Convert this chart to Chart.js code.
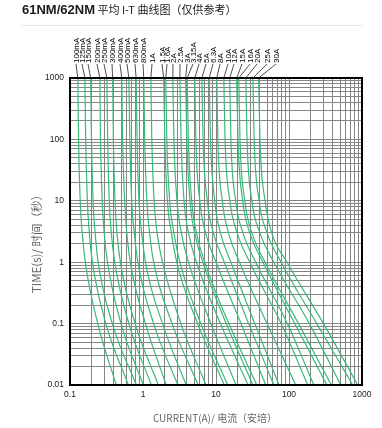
<!DOCTYPE html>
<html>
<head>
<meta charset="utf-8">
<script src="https://cdn.jsdelivr.net/npm/chart.js@4.4.0/dist/chart.umd.min.js"></script>
<style>
  html, body { margin: 0; padding: 0; background: #fff; }
  canvas { display: block; }
</style>
</head>
<body>
<canvas id="itChart" width="382" height="428"></canvas>
<script>
// fuse ratings, one curve each
const ratings = ["100mA","125mA","150mA","200mA","250mA","300mA","400mA","500mA","630mA","800mA",
  "1A","1.5A","1.6A","2A","2.5A","3A","3.15A","4A","5A","6.3A","8A","10A","12A","15A","16A","20A","25A","30A"];

// time points (s) at which each curve was read
const times = [1000, 100, 10, 3, 1, 0.1, 0.01];

// current (A) of each curve at those times
const currents = [
  [0.128, 0.131, 0.138, 0.147, 0.162, 0.24, 0.43],   // 100mA
  [0.16, 0.164, 0.173, 0.184, 0.203, 0.31, 0.63],    // 125mA
  [0.192, 0.197, 0.207, 0.221, 0.243, 0.38, 0.81],   // 150mA
  [0.256, 0.262, 0.276, 0.294, 0.326, 0.5, 1.01],    // 200mA
  [0.32, 0.328, 0.345, 0.368, 0.41, 0.64, 1.3],      // 250mA
  [0.384, 0.393, 0.414, 0.44, 0.49, 0.78, 1.62],     // 300mA
  [0.512, 0.526, 0.56, 0.6, 0.67, 1.08, 2.08],       // 400mA
  [0.64, 0.66, 0.7, 0.76, 0.85, 1.4, 3.0],           // 500mA
  [0.806, 0.83, 0.88, 0.96, 1.08, 1.85, 3.9],        // 630mA
  [1.024, 1.055, 1.13, 1.23, 1.4, 2.5, 5.7],         // 800mA
  [1.28, 1.32, 1.42, 1.56, 1.85, 3.3, 7.3],          // 1A
  [1.92, 1.99, 2.16, 2.45, 2.9, 5.6, 13],            // 1.5A
  [2.05, 2.12, 2.32, 2.65, 3.2, 6.2, 14.5],          // 1.6A
  [2.56, 2.65, 2.92, 3.35, 4.2, 8.5, 18.8],          // 2A
  [3.2, 3.32, 3.65, 4.2, 5.4, 11.5, 27.5],           // 2.5A
  [3.84, 3.98, 4.4, 5.1, 6.6, 13.8, 32],             // 3A
  [4.03, 4.18, 4.65, 5.4, 7.0, 15, 36],              // 3.15A
  [5.12, 5.3, 6.0, 7.2, 10, 22, 48],                 // 4A
  [6.4, 6.65, 7.6, 9.2, 13, 28, 62],                 // 5A
  [8.06, 8.4, 9.6, 11.5, 16, 34, 73],                // 6.3A
  [10.24, 10.6, 12.2, 14.8, 21, 50, 124],            // 8A
  [12.8, 13.3, 15.5, 19.5, 29, 78, 181],             // 10A
  [15.4, 16, 18.6, 23.4, 35, 95, 219],               // 12A
  [19.2, 20, 23.2, 29, 44, 120, 330],                // 15A
  [20.5, 21.3, 24.8, 31, 47, 135, 380],              // 16A
  [25.6, 26.6, 31, 40, 62, 190, 512],                // 20A
  [32, 33.3, 39, 50, 78, 240, 746],                  // 25A
  [38.4, 40, 47, 58, 94, 297, 873]                   // 30A
];

const xTicks = [0.1, 1, 10, 100, 1000];
const xTickLabels = ["0.1", "1", "10", "100", "1000"];
const yTicks = [0.01, 0.1, 1, 10, 100, 1000];
const yTickLabels = ["0.01", "0.1", "1", "10", "100", "1000"];

// where the rotated rating labels sit above the plot (px)
const labelPos = [76, 82, 88, 97, 104, 112, 120, 127, 135, 143, 152, 162, 167, 173, 180, 187,
  193, 199, 206, 213, 220, 228, 234, 242, 250, 257, 267, 276];

const GREEN = "#3cb878";
const FONT = "'Liberation Sans', Arial, 'Noto Sans CJK SC', sans-serif";

// 1..9 per decade for the log grid
function gridValues(decades) {
  const out = [];
  decades.forEach((d, i) => {
    if (i === decades.length - 1) { out.push(d); return; }
    for (let k = 1; k < 10; k++) out.push(+(d * k).toPrecision(4));
  });
  return out;
}

const datasets = currents.map((row, i) => ({
  label: ratings[i],
  data: row.map((c, j) => ({ x: c, y: times[j] })),
  borderColor: GREEN,
  borderWidth: 1.2,
  pointRadius: 0,
  showLine: true,
  cubicInterpolationMode: "monotone",
  fill: false
}));

const decorPlugin = {
  id: "decor",
  afterDatasetsDraw(chart) {
    const { ctx, chartArea: a, scales } = chart;
    ctx.save();
    // frame
    ctx.strokeStyle = "#000";
    ctx.lineWidth = 2;
    ctx.strokeRect(a.left, a.top, a.right - a.left, a.bottom - a.top);

    // rating labels with leader lines
    ctx.lineWidth = 0.8;
    ctx.strokeStyle = "#222";
    ctx.fillStyle = "#000";
    ctx.font = "8px " + FONT;
    currents.forEach((row, i) => {
      const topX = scales.x.getPixelForValue(row[0]);
      const lx = labelPos[i];
      ctx.beginPath();
      ctx.moveTo(lx, 64);
      ctx.lineTo(topX, a.top);
      ctx.stroke();
      ctx.save();
      ctx.translate(lx + 0.5, 63);
      ctx.rotate(-Math.PI / 2);
      ctx.textAlign = "left";
      ctx.textBaseline = "middle";
      ctx.fillText(ratings[i], 0, 0);
      ctx.restore();
    });

    // page title
    ctx.textBaseline = "alphabetic";
    ctx.textAlign = "left";
    ctx.fillStyle = "#1a1a1a";
    ctx.font = "bold 13px " + FONT;
    ctx.fillText("61NM/62NM", 22, 14);
    const w = ctx.measureText("61NM/62NM").width;
    ctx.font = "11px 'Noto Sans CJK SC', sans-serif";
    ctx.fillText(" 平均 I-T 曲线图（仅供参考）", 22 + w, 14);

    // separator
    ctx.strokeStyle = "#e6e6e6";
    ctx.lineWidth = 1;
    ctx.beginPath();
    ctx.moveTo(22, 25.5);
    ctx.lineTo(362, 25.5);
    ctx.stroke();

    // axis titles
    ctx.fillStyle = "#666";
    ctx.font = "10px 'Noto Sans CJK SC', sans-serif";
    ctx.textAlign = "center";
    ctx.textBaseline = "middle";
    ctx.fillText("CURRENT(A)/ 电流（安培）", 215, 418);
    ctx.font = "11.5px 'Noto Sans CJK SC', sans-serif";
    ctx.save();
    ctx.translate(37, 241);
    ctx.rotate(-Math.PI / 2);
    ctx.fillText("TIME(s)/ 时间（秒）", 0, 0);
    ctx.restore();
    ctx.restore();
  }
};

new Chart(document.getElementById("itChart"), {
  type: "scatter",
  data: { datasets },
  options: {
    responsive: false,
    animation: false,
    devicePixelRatio: 1,
    layout: { padding: { top: 78, right: 20, left: 0, bottom: 0 } },
    plugins: { legend: { display: false }, tooltip: { enabled: false } },
    scales: {
      x: {
        type: "logarithmic",
        min: 0.1,
        max: 1000,
        afterBuildTicks: s => { s.ticks = gridValues(xTicks).map(v => ({ value: v })); },
        afterFit: s => { s.height = 43; },
        border: { display: false },
        grid: { color: "#858585", lineWidth: 1, drawTicks: false },
        ticks: {
          autoSkip: false, maxRotation: 0, padding: 5,
          color: "#222", font: { size: 8.5, family: FONT },
          callback: v => { const i = xTicks.indexOf(v); return i >= 0 ? xTickLabels[i] : ""; }
        }
      },
      y: {
        type: "logarithmic",
        min: 0.01,
        max: 1000,
        afterBuildTicks: s => { s.ticks = gridValues(yTicks).map(v => ({ value: v })); },
        afterFit: s => { s.width = 70; },
        border: { display: false },
        grid: { color: "#858585", lineWidth: 1, drawTicks: false },
        ticks: {
          autoSkip: false, padding: 6,
          color: "#222", font: { size: 8.5, family: FONT },
          callback: v => { const i = yTicks.indexOf(v); return i >= 0 ? yTickLabels[i] : ""; }
        }
      }
    }
  },
  plugins: [decorPlugin]
});
</script>
</body>
</html>
